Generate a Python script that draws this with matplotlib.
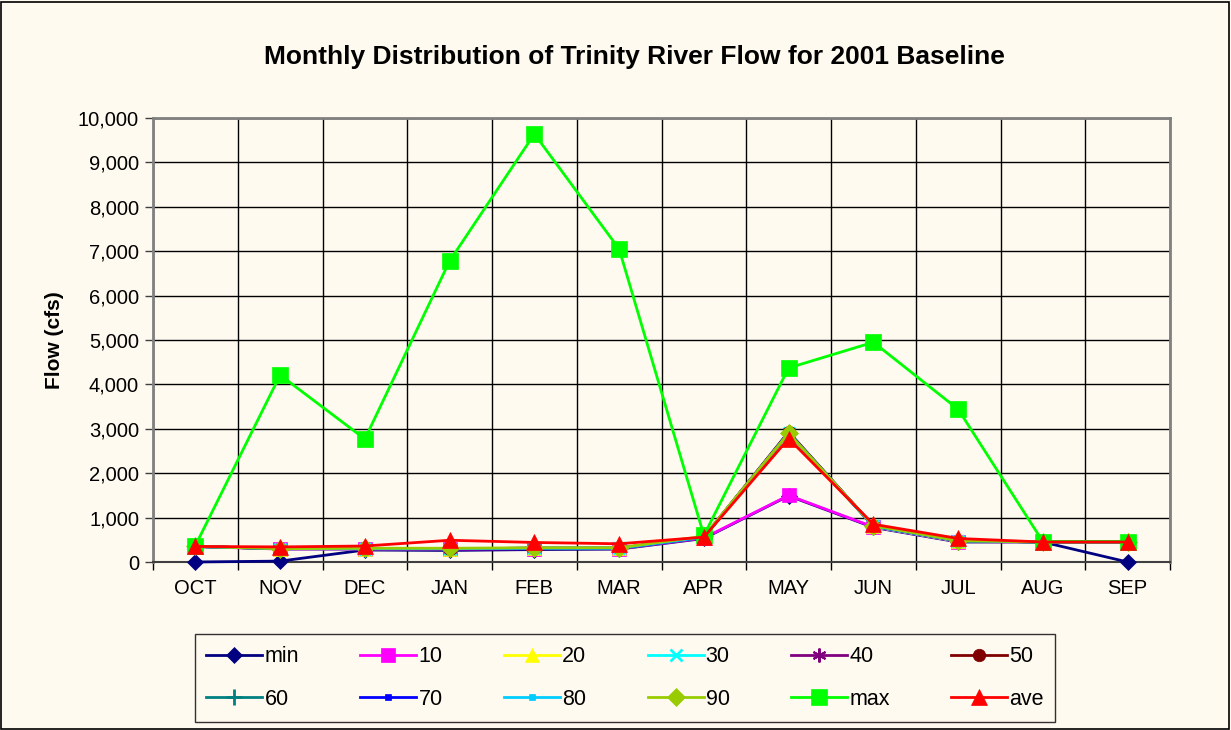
import matplotlib
matplotlib.use("Agg")
import matplotlib.pyplot as plt
from matplotlib.patches import Rectangle
from matplotlib.ticker import FuncFormatter, FixedLocator
import numpy as np

months = ["OCT", "NOV", "DEC", "JAN", "FEB", "MAR", "APR", "MAY", "JUN", "JUL", "AUG", "SEP"]

s_min = [0, 20, 270, 260, 280, 290, 530, 1490, 780, 450, 450, 0]
s_10 = [350, 290, 290, 290, 300, 300, 540, 1500, 790, 460, 450, 450]
s_20 = [350, 300, 300, 300, 310, 310, 560, 2900, 800, 470, 450, 450]
s_30 = [350, 300, 300, 300, 310, 310, 560, 2910, 800, 470, 450, 450]
s_40 = [350, 300, 300, 300, 310, 310, 560, 2930, 810, 480, 450, 450]
s_50 = [350, 300, 300, 300, 310, 310, 560, 2920, 810, 480, 450, 450]
s_60 = [350, 300, 300, 300, 310, 310, 560, 2910, 810, 480, 450, 450]
s_70 = [350, 300, 300, 300, 310, 310, 560, 2900, 810, 480, 450, 450]
s_80 = [350, 300, 300, 300, 310, 310, 560, 2900, 810, 480, 450, 450]
s_90 = [350, 300, 310, 310, 320, 320, 580, 2900, 820, 480, 450, 450]
s_max = [370, 4210, 2770, 6780, 9640, 7050, 600, 4370, 4950, 3440, 460, 460]
s_ave = [350, 340, 360, 490, 440, 410, 560, 2780, 850, 530, 450, 450]

series = [
    ("min", s_min, "#000080", "D", 8, 0),
    ("10", s_10, "#FF00FF", "s", 10, 0),
    ("20", s_20, "#FFFF00", "^", 10, 0),
    ("30", s_30, "#00FFFF", "x", 9, 2),
    ("40", s_40, "#800080", (6, 2, 0), 10, 1.5),
    ("50", s_50, "#800000", "o", 9, 0),
    ("60", s_60, "#008080", "+", 11, 2),
    ("70", s_70, "#0000FF", "s", 4, 0),
    ("80", s_80, "#00CCFF", "s", 5, 0),
    ("90", s_90, "#99CC00", "D", 9, 0),
    ("max", s_max, "#00FF00", "s", 11, 0),
    ("ave", s_ave, "#FF0000", "^", 12, 0),
]

plt.rcParams['font.family'] = ['Liberation Sans', 'DejaVu Sans']
bg = "#FFFAEF"

fig = plt.figure(figsize=(12.31, 7.30), dpi=100, facecolor=bg)
fig.patches.append(Rectangle((0.001, 0.002), 0.997, 0.995, transform=fig.transFigure,
                             fill=False, edgecolor="black", linewidth=1.2))

ax = fig.add_axes([153/1231, 1 - 562/730, (1170 - 153)/1231, (562 - 118)/730])
ax.set_facecolor(bg)

x = np.arange(len(months))
handles = []
for name, vals, color, mk, ms, mew in series:
    kw = dict(color=color, lw=2.0, marker=mk, markersize=ms, label=name,
              markerfacecolor=color, markeredgecolor=color,
              markeredgewidth=(mew if mew else 0.5))
    h, = ax.plot(x, vals, **kw, clip_on=False, zorder=3)
    handles.append(h)

ax.set_xlim(-0.5, len(months) - 0.5)
ax.set_ylim(0, 10000)
ax.set_yticks(np.arange(0, 10001, 1000))
ax.yaxis.set_major_formatter(FuncFormatter(lambda v, p: f"{int(v):,}"))
ax.set_xticks(x)
ax.set_xticklabels(months)
ax.xaxis.set_minor_locator(FixedLocator(np.arange(-0.5, len(months), 1.0)))
ax.tick_params(axis="x", which="major", length=0, pad=12, labelsize=14.5)
ax.tick_params(axis="x", which="minor", length=6, width=1, color="black", direction="out")
ax.tick_params(axis="y", length=6, width=1, color="#404040", direction="out", pad=4, labelsize=14.5)

ax.grid(True, axis="y", color="black", linewidth=1.0, zorder=0)
ax.grid(True, axis="x", which="minor", color="black", linewidth=1.0, zorder=0)
ax.set_axisbelow(True)

for side in ["top", "right", "left"]:
    ax.spines[side].set_color("#808080")
    ax.spines[side].set_linewidth(2.0)
ax.spines["bottom"].set_color("#404040")
ax.spines["bottom"].set_linewidth(1.5)

ax.set_ylabel("Flow (cfs)", fontsize=15, fontweight="bold", labelpad=10)
fig.text(634/1231, 1 - 57/730, "Monthly Distribution of Trinity River Flow for 2001 Baseline",
         ha="center", va="center", fontsize=19, fontweight="bold")

ncol = 6
order = [r * ncol + c for c in range(ncol) for r in range(2)]
leg = fig.legend(handles=[handles[i] for i in order], loc="center", ncol=ncol,
                 bbox_to_anchor=(625/1231, 1 - 678/730), fontsize=15.5,
                 frameon=True, fancybox=False, edgecolor="black", facecolor=bg,
                 handlelength=2.6, handletextpad=0.1, columnspacing=2.85,
                 labelspacing=1.0, borderpad=0.55, borderaxespad=0)
leg.get_frame().set_linewidth(1.0)

fig.savefig("out.png", dpi=100, facecolor=bg)
